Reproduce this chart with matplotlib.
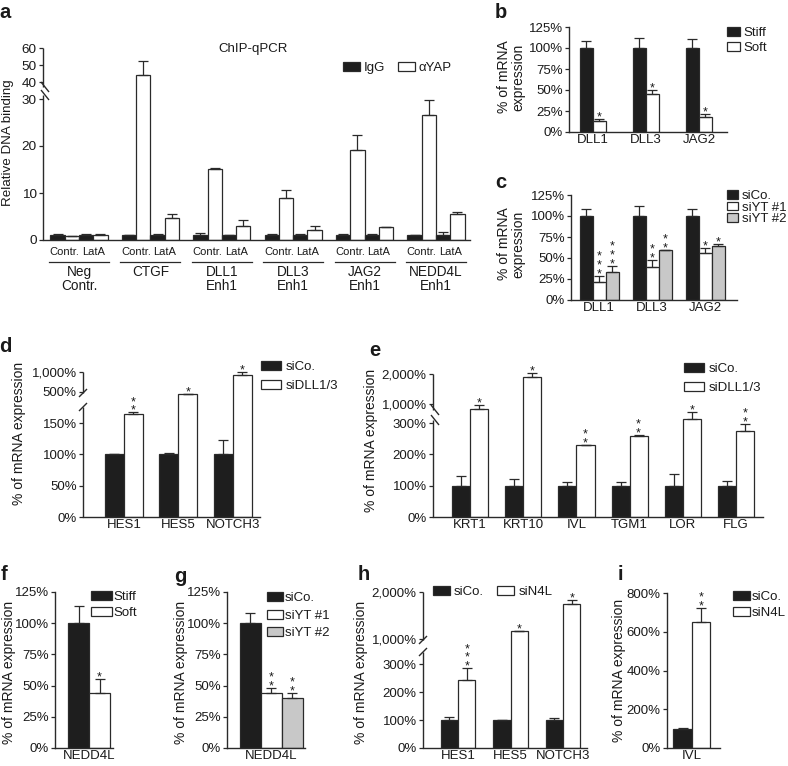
import numpy as np
import matplotlib
matplotlib.use('Agg')
import matplotlib.pyplot as plt
from matplotlib.patches import Patch

# ---------------- data ----------------
a_groups = ['Neg\nContr.', 'CTGF', 'DLL1\nEnh1', 'DLL3\nEnh1', 'JAG2\nEnh1', 'NEDD4L\nEnh1']
a_igg_contr = [1.0, 1.0, 1.0, 1.0, 1.0, 1.0]
a_igg_contr_err = [0.2, 0.0, 0.5, 0.3, 0.3, 0.0]
a_yap_contr = [0.9, 44.0, 15.1, 8.9, 19.1, 26.6]
a_yap_contr_err = [0.0, 8.4, 0.2, 1.7, 3.3, 3.1]
a_igg_lata = [1.0, 1.0, 1.0, 1.0, 1.0, 1.0]
a_igg_lata_err = [0.3, 0.3, 0.1, 0.3, 0.3, 0.6]
a_yap_lata = [1.1, 4.6, 3.0, 2.2, 2.8, 5.6]
a_yap_lata_err = [0.1, 1.0, 1.2, 0.7, 0.05, 0.4]
a_sub = ['Contr.', 'LatA']
a_yticks = [0, 10, 20, 30, 40, 50, 60]

b_genes = ['DLL1', 'DLL3', 'JAG2']
b_stiff = [100, 100, 100]
b_stiff_err = [8.7, 12.0, 11.0]
b_soft = [13, 45, 18]
b_soft_err = [2.8, 4.8, 3.0]
b_soft_stars = [1, 1, 1]

c_genes = ['DLL1', 'DLL3', 'JAG2']
c_sico = [100, 100, 100]
c_sico_err = [8.5, 11.6, 8.5]
c_siyt1 = [21, 39, 56]
c_siyt1_err = [7.8, 8.5, 5.8]
c_siyt2 = [33, 59, 64]
c_siyt2_err = [7.7, 1.0, 3.0]
c_siyt1_stars = [3, 2, 1]
c_siyt2_stars = [3, 2, 1]

pct_ticks = [0, 25, 50, 75, 100, 125]

d_genes = ['HES1', 'HES5', 'NOTCH3']
d_sico = [100, 100, 100]
d_sico_err = [1, 2, 23]
d_sidll = [165, 450, 925]
d_sidll_err = [2, 5, 75]
d_stars = [2, 1, 1]
d_yticks = [0, 50, 100, 150, 500, 1000]
d_yticklabels = ['0%', '50%', '100%', '150%', '500%', '1,000%']

e_genes = ['KRT1', 'KRT10', 'IVL', 'TGM1', 'LOR', 'FLG']
e_sico = [100, 100, 100, 100, 100, 100]
e_sico_err = [32, 20, 11, 11, 36, 16]
e_sidll = [843, 1900, 229, 259, 375, 274]
e_sidll_err = [115, 130, 2, 3, 330, 24]
e_stars = [1, 1, 2, 2, 1, 2]
e_yticks = [0, 100, 200, 300, 1000, 2000]
e_yticklabels = ['0%', '100%', '200%', '300%', '1,000%', '2,000%']

f_gene = ['NEDD4L']
f_stiff = [100]
f_stiff_err = [14]
f_soft = [44]
f_soft_err = [11]
f_stars = [1]

g_gene = ['NEDD4L']
g_sico = [100]
g_sico_err = [8]
g_siyt1 = [44]
g_siyt1_err = [4]
g_siyt2 = [40]
g_siyt2_err = [4]
g_stars = [2, 2]

h_genes = ['HES1', 'HES5', 'NOTCH3']
h_sico = [100, 100, 100]
h_sico_err = [10, 1, 7]
h_sin4l = [244, 1163, 1745]
h_sin4l_err = [42, 10, 90]
h_stars = [3, 1, 1]
h_yticks = [0, 100, 200, 300, 1000, 2000]
h_yticklabels = ['0%', '100%', '200%', '300%', '1,000%', '2,000%']

i_gene = ['IVL']
i_sico = [100]
i_sico_err = [2]
i_sin4l = [650]
i_sin4l_err = [72]
i_stars = [2]
i_yticks = [0, 200, 400, 600, 800]

# ---------------- style ----------------
plt.rcParams['font.family'] = ['Liberation Sans', 'DejaVu Sans']
TXT = '#1a1a1a'
BLACK = '#1e1e1e'
WHITE = '#ffffff'
GREY = '#c8c8c8'
EDGE = '#2a2a2a'
plt.rcParams['text.color'] = TXT
plt.rcParams['axes.labelcolor'] = TXT
plt.rcParams['xtick.color'] = TXT
plt.rcParams['ytick.color'] = TXT

W, H, DPI = 788, 766, 100
P = 72.0 / DPI  # px -> pt
FS = 9.5
YFS = 10.0
fig = plt.figure(figsize=(W / DPI, H / DPI), dpi=DPI)


def add_ax(x0, x1, ytop, ybot):
    ax = fig.add_axes([x0 / W, 1 - ybot / H, (x1 - x0) / W, (ybot - ytop) / H])
    for s in ('top', 'right'):
        ax.spines[s].set_visible(False)
    for s in ('left', 'bottom'):
        ax.spines[s].set_color(EDGE)
        ax.spines[s].set_linewidth(1.0)
    ax.tick_params(axis='y', length=3.0, width=0.9, pad=1.5, labelsize=FS, color=EDGE)
    ax.tick_params(axis='x', length=0, pad=1.5, labelsize=FS)
    ax.minorticks_off()
    return ax


def pw(xa, ya):
    xa = np.asarray(xa, float)
    ya = np.asarray(ya, float)

    def f(v):
        v = np.asarray(v, float)
        out = np.interp(v, xa, ya)
        s0 = (ya[1] - ya[0]) / (xa[1] - xa[0])
        s1 = (ya[-1] - ya[-2]) / (xa[-1] - xa[-2])
        out = np.where(v < xa[0], ya[0] + (v - xa[0]) * s0, out)
        out = np.where(v > xa[-1], ya[-1] + (v - xa[-1]) * s1, out)
        return out
    return f


def make_scale(ax, da, pa):
    fwd = pw(da, pa)
    inv = pw(pa, da)
    ax.set_yscale('function', functions=(fwd, inv))
    ax.yaxis.set_minor_locator(matplotlib.ticker.NullLocator())
    return inv


def broken_spine(ax, inv, ymin, ymax, lo_px, hi_px, axw, style):
    ax.spines['left'].set_visible(False)
    tr = ax.get_yaxis_transform()
    kw = dict(transform=tr, color=EDGE, lw=1.0, clip_on=False, solid_capstyle='butt')
    ax.plot([0, 0], [ymin, float(inv(lo_px))], **kw)
    ax.plot([0, 0], [float(inv(hi_px)), ymax], **kw)
    for p in (lo_px, hi_px):
        if style == 'back':
            xs = [-2 / axw, 6 / axw]
            ys = [float(inv(p + 5)), float(inv(p - 5))]
        else:
            xs = [-4 / axw, 4 / axw]
            ys = [float(inv(p - 4)), float(inv(p + 4))]
        ax.plot(xs, ys, **kw)


def bars(ax, x, vals, errs, color, width, cap=3.5):
    x = np.asarray(x, float)
    ax.bar(x, vals, width, color=color, edgecolor=EDGE, linewidth=0.9, zorder=2)
    ax.errorbar(x, vals, yerr=[np.zeros(len(vals)), errs], fmt='none', ecolor=EDGE,
                elinewidth=0.9, capsize=cap, capthick=0.9, zorder=3, clip_on=False)


SFS = 9.0


def stars(ax, xs, tops, counts, fs=SFS, gap=6, step=8.0):
    for x, t, n in zip(xs, tops, counts):
        lsp = step / (fs / P * 1.0)
        off = gap - 0.59 * fs / P
        ax.annotate('\n'.join(['*'] * n), xy=(x, t), xycoords='data', xytext=(0, off * P),
                    textcoords='offset points', ha='center', va='baseline',
                    fontsize=fs, linespacing=lsp, annotation_clip=False)


def legend(ax, colors, labels, x, ytop, hl=1.35, hh=0.65, tp=0.3, ls=0.2, ncol=1, cs=1.0, fs=FS):
    hs = [Patch(facecolor=c, edgecolor=EDGE, linewidth=0.9) for c in colors]
    ax.legend(hs, labels, loc='upper left', bbox_to_anchor=(x / W, 1 - ytop / H),
              bbox_transform=fig.transFigure, frameon=False, borderpad=0, borderaxespad=0,
              handlelength=hl, handleheight=hh, handletextpad=tp, labelspacing=ls,
              ncol=ncol, columnspacing=cs, fontsize=fs)


def ftext(x, y, s, **kw):
    fig.text(x / W, 1 - y / H, s, **kw)


def tops(v, e):
    return [a + b for a, b in zip(v, e)]

# ---------------- panel a ----------------
ax = add_ax(43, 470, 48, 240)
inv = make_scale(ax, [0, 30, 40, 60], [0, 141, 158, 192])
ax.set_ylim(0, 60)
ax.set_xlim(-0.504, 5.476)
ga = np.arange(len(a_groups))
wa = 0.2
bars(ax, ga - 0.3, a_igg_contr, a_igg_contr_err, BLACK, wa)
bars(ax, ga - 0.1, a_yap_contr, a_yap_contr_err, WHITE, wa)
bars(ax, ga + 0.1, a_igg_lata, a_igg_lata_err, BLACK, wa)
bars(ax, ga + 0.3, a_yap_lata, a_yap_lata_err, WHITE, wa)
ax.set_yticks(a_yticks)
ax.set_yticklabels([str(t) for t in a_yticks])
ax.tick_params(axis='y', labelsize=9.7)
ax.set_xticks([])
broken_spine(ax, inv, 0, 60, 145, 153, 427, 'back')
for g in ga:
    for off, lab in zip((-0.2, 0.2), a_sub):
        ax.annotate(lab, xy=(g + off, 0), xycoords=('data', 'axes fraction'),
                    xytext=(0, -12 * P), textcoords='offset points', ha='center', va='center',
                    fontsize=8.0, annotation_clip=False)
    ax.plot([g - 0.42, g + 0.42], [-22 / 192, -22 / 192], transform=ax.get_xaxis_transform(),
            color=EDGE, lw=0.9, clip_on=False)
    ax.annotate(a_groups[g], xy=(g, 0), xycoords=('data', 'axes fraction'),
                xytext=(0, -25 * P), textcoords='offset points', ha='center', va='top',
                fontsize=9.8, linespacing=0.98, annotation_clip=False)
ftext(253, 49, 'ChIP-qPCR', ha='center', va='center', fontsize=9.5)
legend(ax, [BLACK, WHITE], ['IgG', '\u03b1YAP'], 343, 62, ncol=2, cs=1.0, fs=9.5, tp=0.25, hh=0.7, hl=1.3)
ftext(8, 143, 'Relative DNA binding', rotation=90, ha='center', va='center', fontsize=9.6)

# ---------------- panel b ----------------
ax = add_ax(569, 727, 27, 132)
gb = np.arange(len(b_genes))
wb = 0.245
bars(ax, gb - wb / 2, b_stiff, b_stiff_err, BLACK, wb)
bars(ax, gb + wb / 2, b_soft, b_soft_err, WHITE, wb)
stars(ax, gb + wb / 2, tops(b_soft, b_soft_err), b_soft_stars)
ax.set_ylim(0, 125)
ax.set_xlim(-0.45, 2.53)
ax.set_yticks(pct_ticks)
ax.set_yticklabels([f'{t}%' for t in pct_ticks])
ax.set_xticks(gb)
ax.set_xticklabels(b_genes)
legend(ax, [BLACK, WHITE], ['Stiff', 'Soft'], 727, 27, hl=1.0, tp=0.25, ls=0.22)
ftext(511, 77, '% of mRNA\nexpression', rotation=90, ha='center', va='center', fontsize=YFS,
      multialignment='center', linespacing=1.0)

# ---------------- panel c ----------------
ax = add_ax(571, 737, 195, 300)
gc = np.arange(len(c_genes))
wc = 0.245
bars(ax, gc - wc, c_sico, c_sico_err, BLACK, wc)
bars(ax, gc, c_siyt1, c_siyt1_err, WHITE, wc)
bars(ax, gc + wc, c_siyt2, c_siyt2_err, GREY, wc)
stars(ax, gc, tops(c_siyt1, c_siyt1_err), c_siyt1_stars)
stars(ax, gc + wc, tops(c_siyt2, c_siyt2_err), c_siyt2_stars)
ax.set_ylim(0, 125)
ax.set_xlim(-0.53, 2.60)
ax.set_yticks(pct_ticks)
ax.set_yticklabels([f'{t}%' for t in pct_ticks])
ax.set_xticks(gc)
ax.set_xticklabels(c_genes)
legend(ax, [BLACK, WHITE, GREY], ['siCo.', 'siYT #1', 'siYT #2'], 727, 190, hl=0.82, tp=0.3, ls=-0.03)
ftext(511, 244, '% of mRNA\nexpression', rotation=90, ha='center', va='center', fontsize=YFS,
      multialignment='center', linespacing=1.0)

# ---------------- panel d ----------------
ax = add_ax(83, 260, 372, 517)
inv = make_scale(ax, [0, 180, 425, 1000], [0, 112.8, 122, 145])
gd = np.arange(len(d_genes))
wd = 0.35
bars(ax, gd - wd / 2, d_sico, d_sico_err, BLACK, wd)
bars(ax, gd + wd / 2, d_sidll, d_sidll_err, WHITE, wd)
stars(ax, gd + wd / 2, tops(d_sidll, d_sidll_err), d_stars)
ax.set_ylim(0, 1000)
ax.set_xlim(-0.75, 2.50)
ax.set_yticks(d_yticks)
ax.set_yticklabels(d_yticklabels)
ax.set_xticks(gd)
ax.set_xticklabels(d_genes)
broken_spine(ax, inv, 0, 1000, 110, 124, 177, 'fwd')
legend(ax, [BLACK, WHITE], ['siCo.', 'siDLL1/3'], 261, 361, hl=1.5, hh=0.7, tp=0.4, ls=0.5)
ftext(19, 433, '% of mRNA expression', rotation=90, ha='center', va='center', fontsize=YFS)

# ---------------- panel e ----------------
ax = add_ax(433, 763, 374, 517)
inv = make_scale(ax, [0, 310, 800, 2000], [0, 97, 107, 143])
ge = np.arange(len(e_genes))
we = 0.34
bars(ax, ge - we / 2, e_sico, e_sico_err, BLACK, we)
bars(ax, ge + we / 2, e_sidll, e_sidll_err, WHITE, we)
stars(ax, ge + we / 2, tops(e_sidll, e_sidll_err), e_stars)
ax.set_ylim(0, 2000)
ax.set_xlim(-0.70, 5.51)
ax.set_yticks(e_yticks)
ax.set_yticklabels(e_yticklabels)
ax.set_xticks(ge)
ax.set_xticklabels(e_genes)
broken_spine(ax, inv, 0, 2000, 97, 107, 330, 'back')
legend(ax, [BLACK, WHITE], ['siCo.', 'siDLL1/3'], 684, 363, hl=1.5, hh=0.7, tp=0.4, ls=0.5)
ftext(371, 440, '% of mRNA expression', rotation=90, ha='center', va='center', fontsize=YFS)

# ---------------- panel f ----------------
ax = add_ax(55, 113, 592, 748)
wf = 0.35
bars(ax, [-wf / 2], f_stiff, f_stiff_err, BLACK, wf)
bars(ax, [wf / 2], f_soft, f_soft_err, WHITE, wf)
stars(ax, [wf / 2], tops(f_soft, f_soft_err), f_stars)
ax.set_ylim(0, 125)
ax.set_xlim(-0.567, 0.40)
ax.set_yticks(pct_ticks)
ax.set_yticklabels([f'{t}%' for t in pct_ticks])
ax.set_xticks([0])
ax.set_xticklabels(f_gene)
legend(ax, [BLACK, WHITE], ['Stiff', 'Soft'], 91, 591, hl=1.6, hh=0.7, tp=0.1, ls=0.28)
ftext(9, 672, '% of mRNA expression', rotation=90, ha='center', va='center', fontsize=YFS)

# ---------------- panel g ----------------
ax = add_ax(227, 305, 592, 748)
wg = 0.28
bars(ax, [-wg], g_sico, g_sico_err, BLACK, wg)
bars(ax, [0], g_siyt1, g_siyt1_err, WHITE, wg)
bars(ax, [wg], g_siyt2, g_siyt2_err, GREY, wg)
stars(ax, [0, wg], [g_siyt1[0] + g_siyt1_err[0], g_siyt2[0] + g_siyt2_err[0]], g_stars)
ax.set_ylim(0, 125)
ax.set_xlim(-0.593, 0.447)
ax.set_yticks(pct_ticks)
ax.set_yticklabels([f'{t}%' for t in pct_ticks])
ax.set_xticks([0])
ax.set_xticklabels(g_gene)
legend(ax, [BLACK, WHITE, GREY], ['siCo.', 'siYT #1', 'siYT #2'], 267, 592, hl=1.25, hh=0.7, tp=0.1, ls=0.4)
ftext(181, 672, '% of mRNA expression', rotation=90, ha='center', va='center', fontsize=YFS)

# ---------------- panel h ----------------
ax = add_ax(423, 587, 592, 748)
inv = make_scale(ax, [0, 340, 980, 2000], [0, 95, 108, 156])
gh = np.arange(len(h_genes))
wh = 0.333
bars(ax, gh - wh / 2, h_sico, h_sico_err, BLACK, wh)
bars(ax, gh + wh / 2, h_sin4l, h_sin4l_err, WHITE, wh)
stars(ax, gh + wh / 2, tops(h_sin4l, h_sin4l_err), h_stars)
ax.set_ylim(0, 2000)
ax.set_xlim(-0.667, 2.457)
ax.set_yticks(h_yticks)
ax.set_yticklabels(h_yticklabels)
ax.set_xticks(gh)
ax.set_xticklabels(h_genes)
broken_spine(ax, inv, 0, 2000, 96, 108, 164, 'fwd')
legend(ax, [BLACK, WHITE], ['siCo.', 'siN4L'], 433, 586, hl=1.3, hh=0.7, tp=0.3, ncol=2, cs=1.0)
ftext(361, 672, '% of mRNA expression', rotation=90, ha='center', va='center', fontsize=YFS)

# ---------------- panel i ----------------
ax = add_ax(667, 720, 593, 748)
wi = 0.35
bars(ax, [-wi / 2], i_sico, i_sico_err, BLACK, wi)
bars(ax, [wi / 2], i_sin4l, i_sin4l_err, WHITE, wi)
stars(ax, [wi / 2], tops(i_sin4l, i_sin4l_err), i_stars)
ax.set_ylim(0, 800)
ax.set_xlim(-0.47, 0.53)
ax.set_yticks(i_yticks)
ax.set_yticklabels([f'{t}%' for t in i_yticks])
ax.set_xticks([0])
ax.set_xticklabels(i_gene)
legend(ax, [BLACK, WHITE], ['siCo.', 'siN4L'], 733, 591, hl=1.3, hh=0.7, tp=0.15, ls=0.28)
ftext(619, 670, '% of mRNA expression', rotation=90, ha='center', va='center', fontsize=YFS)

# ---------------- panel letters ----------------
for lab, x, y in [('a', 5, 13), ('b', 501, 12), ('c', 501, 182), ('d', 5, 347), ('e', 375, 351),
                  ('f', 4, 575), ('g', 180, 577), ('h', 364, 575), ('i', 620, 575)]:
    ftext(x, y, lab, ha='center', va='center', fontsize=14.5, fontweight='bold')

fig.savefig('out.png', dpi=DPI)
